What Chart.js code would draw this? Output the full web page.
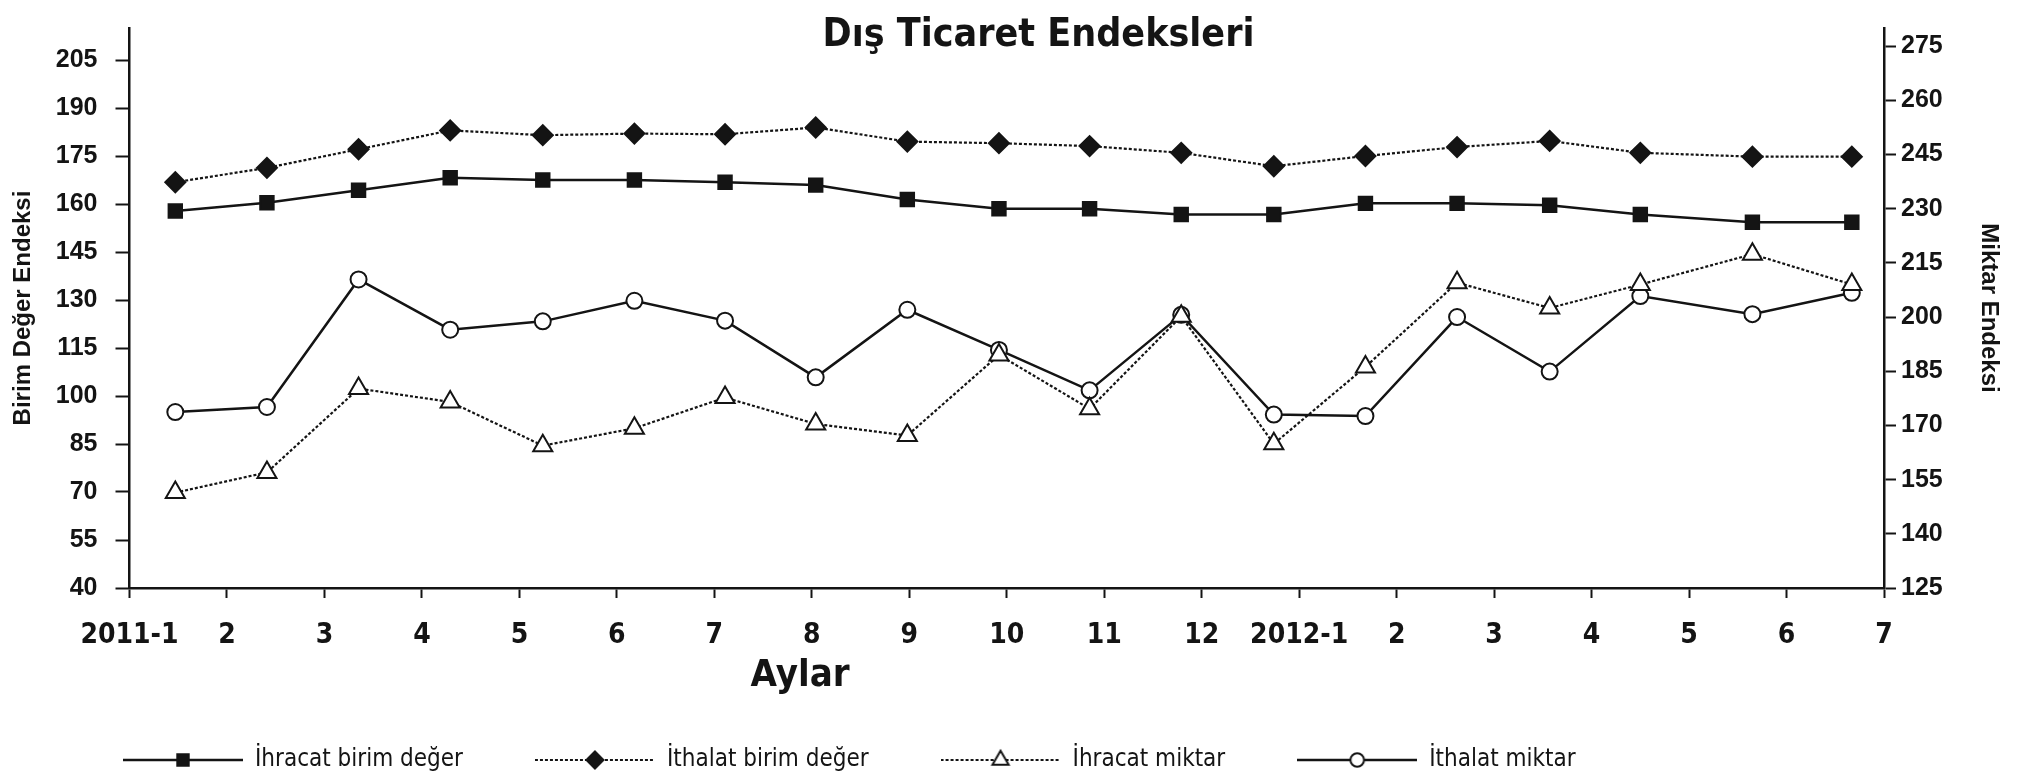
<!DOCTYPE html>
<html>
<head>
<meta charset="utf-8">
<script src="https://cdn.jsdelivr.net/npm/chart.js@4"></script>
<style>
  body { margin: 0; background: #fff; }
</style>
</head>
<body>
<canvas id="myChart" width="2026" height="778"></canvas>
<script>
// month ticks on the x axis
const monthLabels = ['2011-1', '2', '3', '4', '5', '6', '7', '8', '9', '10', '11', '12',
    '2012-1', '2', '3', '4', '5', '6', '7'];
// where each point sits along the month axis
const xPos = [0.47, 1.41, 2.35, 3.29, 4.24, 5.18, 6.11, 7.04, 7.98, 8.92, 9.85, 10.79,
    11.74, 12.68, 13.62, 14.57, 15.50, 16.65, 17.67];

// left axis (Birim Değer Endeksi)
const ihracatBirim = [157.8, 160.4, 164.3, 168.2, 167.5, 167.5, 166.8, 165.9, 161.4, 158.5,
    158.5, 156.7, 156.7, 160.2, 160.2, 159.6, 156.7, 154.3, 154.3];
const ithalatBirim = [166.8, 171.3, 177.1, 183.0, 181.5, 182.0, 181.8, 183.9, 179.5, 179.0,
    178.1, 176.0, 171.8, 175.0, 177.8, 179.7, 176.0, 174.8, 174.8];

// right axis (Miktar Endeksi)
const ihracatMiktar = [151.4, 157.0, 180.2, 176.5, 164.4, 169.2, 177.7, 170.4, 167.2, 189.5,
    174.6, 200.2, 164.9, 186.2, 209.5, 202.5, 209.0, 217.4, 209.0];
const ithalatMiktar = [173.7, 175.1, 210.4, 196.5, 198.8, 204.5, 199.0, 183.3, 202.0, 190.9,
    179.7, 200.6, 173.0, 172.6, 200.0, 184.9, 205.8, 200.8, 206.7];

const leftTicks = [40, 55, 70, 85, 100, 115, 130, 145, 160, 175, 190, 205];
const rightTicks = [125, 140, 155, 170, 185, 200, 215, 230, 245, 260, 275];

const aylarAt = 6.88;

const ink = '#141414';
const narrow = '"Liberation Sans Narrow", "DejaVu Sans Condensed", sans-serif';
const wide = '"Liberation Sans", Arial, sans-serif';

function pts(vals) {
    return vals.map((v, i) => ({ x: xPos[i], y: v }));
}

const series = [
    { label: 'İhracat birim değer', data: ihracatBirim, axis: 'yL', style: 'rect', r: 9.5, fill: ink, dash: [] },
    { label: 'İthalat birim değer', data: ithalatBirim, axis: 'yL', style: 'rectRot', r: 10, fill: ink, dash: [3, 2] },
    { label: 'İhracat miktar', data: ihracatMiktar, axis: 'yR', style: 'triangle', r: 11, fill: '#fff', dash: [3, 2] },
    { label: 'İthalat miktar', data: ithalatMiktar, axis: 'yR', style: 'circle', r: 8, fill: '#fff', dash: [] }
];

// legend icon: a line with the marker in the middle
function makeIcon(s) {
    const c = document.createElement('canvas');
    c.width = 120;
    c.height = 30;
    const g = c.getContext('2d');
    g.strokeStyle = ink;
    g.lineWidth = s.dash.length ? 2.2 : 2.5;
    g.setLineDash(s.dash);
    g.beginPath();
    g.moveTo(0, 15);
    g.lineTo(120, 15);
    g.stroke();
    g.setLineDash([]);
    g.fillStyle = s.fill;
    g.lineWidth = 2;
    Chart.helpers.drawPoint(g, { pointStyle: s.style, radius: s.r * 0.85, borderWidth: 2 }, 60, 15);
    return c;
}

const icons = series.map(makeIcon);

const aylarPlugin = {
    id: 'aylar',
    afterDraw(chart) {
        const ctx = chart.ctx;
        const x = chart.scales.x.getPixelForValue(aylarAt);
        ctx.save();
        ctx.font = 'bold 38px ' + narrow;
        ctx.fillStyle = ink;
        ctx.textAlign = 'center';
        ctx.textBaseline = 'middle';
        ctx.fillText('Aylar', x, chart.chartArea.bottom + 88);
        ctx.restore();
    }
};

new Chart(document.getElementById('myChart').getContext('2d'), {
    type: 'line',
    data: {
        datasets: series.map(s => ({
            label: s.label,
            data: pts(s.data),
            yAxisID: s.axis,
            borderColor: ink,
            borderWidth: s.dash.length ? 2.2 : 2.5,
            borderDash: s.dash,
            pointStyle: s.style,
            pointRadius: s.r,
            pointBorderWidth: 2,
            pointBackgroundColor: s.fill,
            pointBorderColor: ink,
            tension: 0
        }))
    },
    options: {
        responsive: false,
        animation: false,
        layout: { padding: { left: 51, right: 0, top: 0, bottom: -4 } },
        plugins: {
            title: {
                display: true,
                text: 'Dış Ticaret Endeksleri',
                color: ink,
                font: { family: narrow, size: 39, weight: 'bold', lineHeight: 1 },
                padding: { top: 16, bottom: -27 }
            },
            legend: {
                display: true,
                position: 'bottom',
                align: 'start',
                labels: {
                    usePointStyle: true,
                    pointStyleWidth: 120,
                    padding: 72,
                    color: ink,
                    font: { family: narrow, size: 24 },
                    generateLabels: () => series.map((s, i) => ({
                        text: s.label,
                        pointStyle: icons[i],
                        datasetIndex: i,
                        hidden: false,
                        lineWidth: 0,
                        fillStyle: 'transparent',
                        strokeStyle: 'transparent',
                        fontColor: ink
                    }))
                }
            },
            tooltip: { enabled: false }
        },
        scales: {
            x: {
                type: 'linear',
                min: 0,
                max: monthLabels.length - 1,
                afterBuildTicks: scale => {
                    scale.ticks = monthLabels.map((_, i) => ({ value: i }));
                },
                afterFit: scale => { scale.height = 88; },
                ticks: {
                    callback: (v, i) => monthLabels[i],
                    color: ink,
                    padding: 21,
                    maxRotation: 0,
                    autoSkip: false,
                    font: { family: narrow, size: 28, weight: 'bold' }
                },
                grid: { drawOnChartArea: false, tickLength: 10, tickWidth: 2, tickColor: ink },
                border: { display: true, color: ink, width: 2.5 }
            },
            yL: {
                type: 'linear',
                position: 'left',
                min: 40,
                max: 215,
                afterBuildTicks: scale => {
                    scale.ticks = leftTicks.map(v => ({ value: v }));
                },
                afterFit: scale => { scale.width = 78.5; },
                ticks: {
                    color: ink,
                    padding: 18,
                    font: { family: wide, size: 25, weight: 'bold', lineHeight: 0.5 }
                },
                grid: { drawOnChartArea: false, tickLength: 14, tickWidth: 2, tickColor: ink },
                border: { display: true, color: ink, width: 2.5 },
                title: {
                    display: true,
                    text: 'Birim Değer Endeksi',
                    color: ink,
                    font: { family: wide, size: 24, weight: 'bold', lineHeight: 1.2 },
                    padding: { top: -42, bottom: 0 }
                }
            },
            yR: {
                type: 'linear',
                position: 'right',
                min: 125,
                max: 280,
                afterBuildTicks: scale => {
                    scale.ticks = rightTicks.map(v => ({ value: v }));
                },
                afterFit: scale => { scale.width = 142; },
                ticks: {
                    color: ink,
                    padding: 5,
                    font: { family: wide, size: 25, weight: 'bold', lineHeight: 0.5 }
                },
                grid: { drawOnChartArea: false, tickLength: 12, tickWidth: 2, tickColor: ink },
                border: { display: true, color: ink, width: 2.5 },
                title: {
                    display: true,
                    text: 'Miktar Endeksi',
                    color: ink,
                    font: { family: wide, size: 24, weight: 'bold', lineHeight: 1.2 },
                    padding: { top: 23, bottom: 0 }
                }
            }
        }
    },
    plugins: [aylarPlugin]
});
</script>
</body>
</html>
